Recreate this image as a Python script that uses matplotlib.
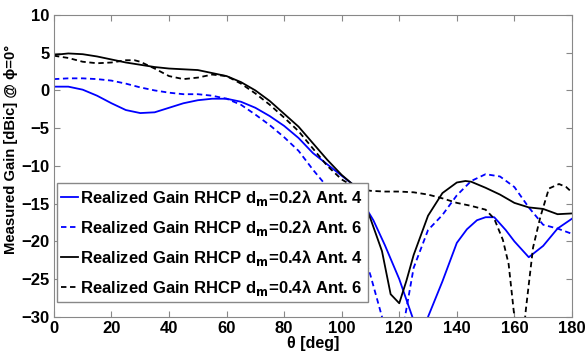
import numpy as np
import matplotlib.pyplot as plt

plt.rcParams['font.family'] = ['Liberation Sans', 'DejaVu Sans']
plt.rcParams['font.weight'] = 'bold'

# 0.2 lambda, Ant. 4 (blue solid)
th_a = [0, 5, 10, 15, 20, 25, 30, 35, 40, 45, 50, 55, 60, 65, 70, 75, 80, 85, 90, 95,
        100, 104, 108, 111, 115, 120, 125, 127, 130, 135, 140, 143.5, 147, 150, 153,
        157, 160, 165, 170, 175, 180]
g_a = [0.5, 0.5, 0.1, -0.7, -1.7, -2.6, -3.0, -2.9, -2.3, -1.7, -1.3, -1.1, -1.1, -1.5,
       -2.3, -3.4, -4.7, -6.3, -8.3, -9.8, -11.3, -12.5, -15.3, -17.2, -20.5, -25.0,
       -30.5, -36.0, -30.0, -25.3, -20.2, -18.4, -17.2, -16.8, -16.8, -18.5, -20.0,
       -22.1, -20.6, -18.3, -17.0]

# 0.2 lambda, Ant. 6 (blue dashed)
th_b = [0, 5, 10, 15, 20, 25, 30, 35, 40, 45, 50, 55, 60, 65, 70, 75, 80, 85, 90, 95,
        100, 105, 110, 114, 118, 122, 125, 130, 135, 140, 145, 150, 155, 160, 165,
        170, 175, 180]
g_b = [1.5, 1.6, 1.6, 1.5, 1.3, 0.9, 0.4, 0.0, -0.3, -0.5, -0.5, -0.7, -1.1, -1.9,
       -3.2, -4.6, -6.2, -8.0, -10.5, -12.8, -15.3, -18.8, -24.5, -30.0, -36.0, -30.0,
       -23.5, -18.5, -16.5, -13.9, -12.0, -11.1, -11.4, -12.8, -15.5, -17.8, -18.3,
       -19.0]

# 0.4 lambda, Ant. 4 (black solid)
th_c = [0, 5, 10, 15, 20, 25, 30, 35, 40, 45, 50, 55, 60, 65, 70, 75, 80, 85, 90, 95,
        100, 104, 107, 110, 114, 117, 120, 122.5, 125, 130, 135, 140, 143, 145, 150,
        155, 160, 165, 170, 175, 180]
g_c = [4.7, 4.9, 4.8, 4.5, 4.1, 3.7, 3.4, 3.1, 2.9, 2.8, 2.7, 2.3, 1.9, 1.1, 0.0, -1.4,
       -3.1, -4.8, -7.0, -9.2, -11.2, -12.5, -14.1, -17.0, -21.3, -27.0, -28.2, -25.2,
       -21.8, -16.6, -13.6, -12.2, -12.0, -12.1, -12.9, -13.8, -14.9, -15.5, -15.7,
       -16.4, -16.3]

# 0.4 lambda, Ant. 6 (black dashed)
th_d = [0, 5, 10, 15, 20, 25, 28, 30, 35, 40, 45, 50, 55, 60, 65, 70, 75, 80, 85, 90,
        95, 100, 104, 107, 110, 115, 120, 125, 130, 135, 140, 145, 150, 153, 156, 158,
        160, 162, 164, 166.5, 169, 172, 175.5, 178, 180]
g_d = [4.6, 4.3, 3.8, 3.6, 3.7, 4.0, 4.0, 3.8, 2.9, 1.9, 1.5, 1.7, 2.1, 1.9, 0.9, -0.4,
       -1.9, -3.6, -5.4, -7.7, -10.0, -11.8, -12.7, -13.1, -13.3, -13.4, -13.4, -13.5,
       -13.8, -14.3, -14.9, -15.3, -15.8, -17.0, -19.8, -23.0, -30.0, -37.0, -29.0,
       -20.8, -16.8, -13.0, -12.4, -12.8, -13.5]

labels = [r'Realized Gain RHCP d$_\mathbf{m}$=0.2λ Ant. 4',
          r'Realized Gain RHCP d$_\mathbf{m}$=0.2λ Ant. 6',
          r'Realized Gain RHCP d$_\mathbf{m}$=0.4λ Ant. 4',
          r'Realized Gain RHCP d$_\mathbf{m}$=0.4λ Ant. 6']

fig = plt.figure(figsize=(5.86, 3.56), dpi=100)
ax = fig.add_axes([0.092, 0.11, 0.884, 0.848])

lw = 1.3
ax.plot(th_a, g_a, color='#0000ff', lw=lw, label=labels[0])
ax.plot(th_b, g_b, color='#0000ff', lw=lw, dashes=(3, 2), label=labels[1])
ax.plot(th_c, g_c, color='black', lw=lw, label=labels[2])
ax.plot(th_d, g_d, color='black', lw=lw, dashes=(3, 2), label=labels[3])

ax.set_xlim(0, 180)
ax.set_ylim(-30, 10)
ax.set_xticks(np.arange(0, 181, 20))
ax.set_yticks(np.arange(-30, 11, 5))
ax.tick_params(direction='in', top=True, right=True, length=4, color='#888888',
               labelsize=12, pad=3)
for s in ax.spines.values():
    s.set_color('#888888')

ax.set_xlabel('θ [deg]', fontsize=11.5, fontweight='bold', labelpad=0)
ax.set_ylabel('Measured Gain [dBic] @ ϕ=0°', fontsize=10.7, fontweight='bold')
ax.yaxis.set_label_coords(-0.07, 0.553)

leg = ax.legend(loc='lower left', bbox_to_anchor=(0.006, 0.05), borderaxespad=0,
                fontsize=12, handlelength=1.0, handletextpad=0.15, labelspacing=0.6,
                fancybox=False, framealpha=1, borderpad=0.25)
leg.get_frame().set_edgecolor('#888888')
leg.get_frame().set_linewidth(1.0)

fig.savefig('out.png', dpi=100)
